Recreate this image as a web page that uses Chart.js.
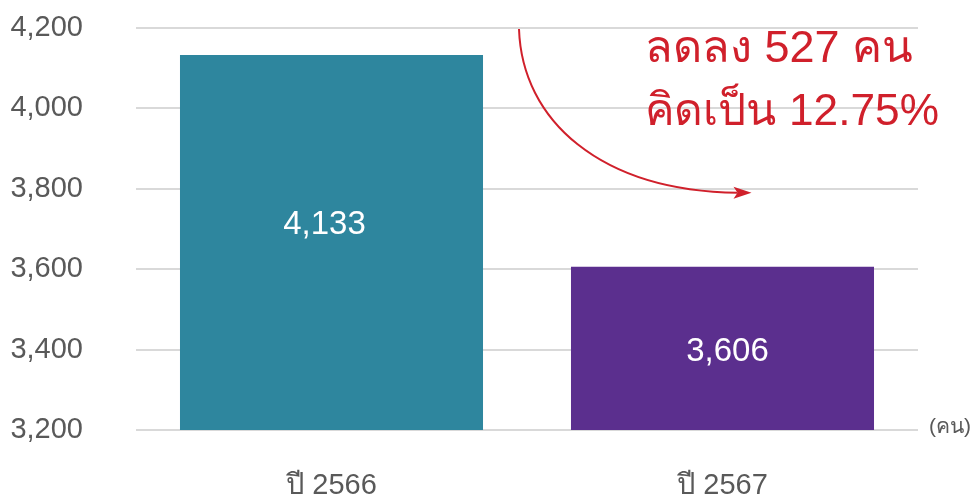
<!DOCTYPE html>
<html><head><meta charset="utf-8">
<script src="https://cdn.jsdelivr.net/npm/chart.js@4"></script>
<style>html,body{margin:0;padding:0;background:#fff}#wrap{width:975px;height:497px}</style>
</head><body><div id="wrap"><canvas id="c" width="975" height="497"></canvas></div>
<script>
const categories = ["ปี 2566", "ปี 2567"];
const values = [4133, 3606];
const barColors = ["#2E869E", "#5B2F8E"];
const yTicks = [3200, 3400, 3600, 3800, 4000, 4200];
const unitLabel = "(คน)";
const noteLines = ["ลดลง 527 คน", "คิดเป็น 12.75%"];

const FONT = "'Liberation Sans', Arial, 'Noto Sans', sans-serif";

const valueLabels = {
  id: 'valueLabels',
  afterDatasetsDraw(chart, args, opts) {
    const ctx = chart.ctx, meta = chart.getDatasetMeta(0), y = chart.scales.y;
    ctx.save();
    ctx.fillStyle = '#fff';
    ctx.font = '33px ' + FONT;
    ctx.textAlign = 'center'; ctx.textBaseline = 'middle';
    meta.data.forEach((bar, i) => {
      const v = values[i];
      const py = (y.getPixelForValue(v) + y.getPixelForValue(y.min)) / 2 + opts.nudge[i];
      ctx.fillText(v.toLocaleString('en-US'), bar.x - opts.dx[i], py);
    });
    ctx.restore();
  }
};

const extras = {
  id: 'extras',
  afterDraw(chart) {
    const ctx = chart.ctx, a = chart.chartArea, x = chart.scales.x, y = chart.scales.y;
    ctx.save();
    // unit label
    ctx.fillStyle = '#595959';
    ctx.font = '21px ' + FONT;
    ctx.textAlign = 'left'; ctx.textBaseline = 'middle';
    ctx.fillText(unitLabel, a.right + 11, y.getPixelForValue(3200) - 3);
    // arrow
    const mid = (x.getPixelForValue(0) + x.getPixelForValue(1)) / 2;
    const sx = mid - 8, sy = y.getPixelForValue(4200) + 1;
    const ex = x.getPixelForValue(1) + 29, ey = y.getPixelForValue(3800) + 4;
    ctx.strokeStyle = '#D0202B'; ctx.fillStyle = '#D0202B';
    ctx.lineWidth = 2;
    ctx.beginPath();
    ctx.moveTo(sx, sy);
    ctx.bezierCurveTo(sx + 3, sy + 91, ex - 152, ey - 2, ex - 14, ey);
    ctx.stroke();
    ctx.beginPath();
    ctx.moveTo(ex, ey);
    ctx.lineTo(ex - 18, ey - 6);
    ctx.lineTo(ex - 14, ey);
    ctx.lineTo(ex - 18, ey + 6);
    ctx.closePath();
    ctx.fill();
    // note text
    ctx.fillStyle = '#D0202B';
    ctx.font = '45px ' + FONT;
    ctx.textAlign = 'left'; ctx.textBaseline = 'alphabetic';
    ctx.fillText(noteLines[0], 645, 62, 268);
    ctx.fillText(noteLines[1], 645, 125, 294);
    ctx.restore();
  }
};

new Chart(document.getElementById('c'), {
  type: 'bar',
  data: {
    labels: categories,
    datasets: [{ data: values, backgroundColor: barColors, borderWidth: 0,
      categoryPercentage: 1, barPercentage: 0.775 }]
  },
  options: {
    responsive: false, animation: false,
    layout: { padding: { left: 10, right: 57, top: 28, bottom: 0 } },
    plugins: { legend: { display: false }, tooltip: { enabled: false },
      valueLabels: { nudge: [-18, 4], dx: [7, -5] } },
    scales: {
      x: {
        grid: { display: false }, border: { display: false },
        ticks: { color: '#595959', font: { size: 29, family: FONT }, padding: 31 },
        afterFit(s) { s.height = 67; }
      },
      y: {
        min: 3200, max: 4200,
        afterBuildTicks(s) { s.ticks = yTicks.map(v => ({ value: v })); },
        grid: { color: '#D9D9D9', lineWidth: 2, drawTicks: true, tickLength: 50, tickColor: 'rgba(0,0,0,0)' },
        border: { display: false },
        ticks: { color: '#595959', font: { size: 29, family: FONT }, padding: 3,
          callback: v => v.toLocaleString('en-US') },
        afterFit(s) { s.width = 126; }
      }
    }
  },
  plugins: [valueLabels, extras]
});
</script></body></html>
